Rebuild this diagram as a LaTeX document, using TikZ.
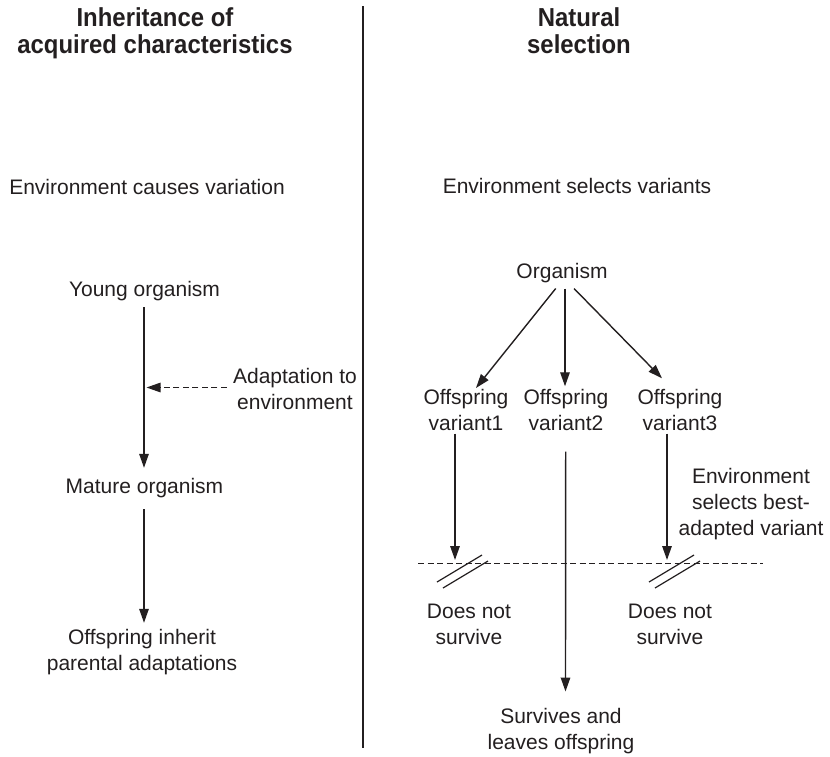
\documentclass[tikz,border=0pt]{standalone}
\usepackage{fontspec}
\setmainfont{Liberation Sans}
\newfontfamily\headfont{Liberation Sans}[FakeStretch=0.92]
\usetikzlibrary{arrows.meta}
\definecolor{ink}{HTML}{231F20}

\begin{document}
\begin{tikzpicture}[x=1pt,y=-1pt,
  lbl/.style={font=\fontsize{21}{26}\selectfont, align=center, inner sep=0pt,
    text=ink, execute at begin node=\strut, execute at end node=\strut},
  head/.style={font=\headfont\bfseries\fontsize{26}{27}\selectfont, align=center, inner sep=0pt,
    text=ink, execute at begin node=\strut, execute at end node=\strut},
  tip/.tip={Triangle[length=14pt,width=9.5pt]},
  arr/.style={draw=ink, line width=1.4pt, -tip},
  dashedarr/.style={draw=ink, line width=1.3pt, dash pattern=on 6pt off 3.5pt, -tip},
  cutline/.style={draw=ink, line width=1.2pt, dash pattern=on 6pt off 3.5pt},
  slash/.style={draw=ink, line width=1.2pt},
]
\useasboundingbox (0,0) rectangle (830,756);

% column headings and divider
\node[head] (hl) at (155,35.1) {Inheritance of\\acquired characteristics};
\node[head] (hr) at (579,35.1) {Natural\\selection};
\coordinate (divtop) at (363,6);
\coordinate (divbot) at (363,748);
\draw[ink, line width=1.2pt] (divtop) -- (divbot);

% left column: Lamarckian scheme
\node[lbl] (envl) at (147,188.8) {Environment causes variation};
\node[lbl] (young) at (144.5,291.5) {Young organism};
\node[lbl] (mature) at (144.5,488) {Mature organism};
\node[lbl] (inherit) at (142,653.5) {Offspring inherit\\parental adaptations};
\node[lbl] (adapt) at (295,392.3) {Adaptation to\\environment};

\draw[arr, shorten <=2.5pt, shorten >=7pt] (young.south -| 144,0) -- (mature.north -| 144,0);
\draw[arr, shorten <=8pt, shorten >=6pt] (mature.south -| 144,0) -- (inherit.north -| 144,0);
\draw[dashedarr] ([xshift=-6pt,yshift=4.8pt]adapt.west) -- ([yshift=4.8pt]adapt.west -| 146.5,0);

% right column: Darwinian scheme
\node[lbl] (envr) at (577,187.8) {Environment selects variants};
\node[lbl] (org) at (562,273) {Organism};
\node[lbl] (v1) at (466,414) {Offspring\\variant1};
\node[lbl] (v2) at (566,414) {Offspring\\variant2};
\node[lbl] (v3) at (680,414) {Offspring\\variant3};
\node[lbl] (sel) at (751,505.6) {Environment\\selects best-\\adapted variant};
\node[lbl] (dn1) at (469,628.5) {Does not\\survive};
\node[lbl] (dn3) at (670,628.5) {Does not\\survive};
\node[lbl] (surv) at (561,733.2) {Survives and\\leaves offspring};

\draw[arr] ([xshift=-6.3pt,yshift=-2.3pt]org.south) -- ([xshift=10pt,yshift=1.3pt]v1.north);
\draw[arr] ([xshift=3pt,yshift=-2.3pt]org.south) -- ([xshift=-1pt,yshift=3pt]v2.north);
\draw[arr] ([xshift=12pt,yshift=-2.3pt]org.south) -- ([xshift=-18pt,yshift=11pt]v3.north);

% selection threshold
\coordinate (dl) at (418,563.3);
\coordinate (dr) at (763,563.3);
\draw[cutline] (dl) -- (dr);

\coordinate (cut1) at (455,560);
\coordinate (cut3) at (667,560);
\draw[arr] ([xshift=-11pt,yshift=5pt]v1.south) -- (cut1);
\draw[arr] ([xshift=-13pt,yshift=5pt]v3.south) -- (cut3);
\draw[arr] ([xshift=-0.3pt,yshift=-13pt]v2.south) -- ([xshift=4.5pt,yshift=17pt]surv.north);

% blocked paths
\foreach \c in {cut1,cut3}{
  \draw[slash] ([shift={(-18,22)}]\c) -- ([shift={(27,-5)}]\c);
  \draw[slash] ([shift={(-12,28)}]\c) -- ([shift={(33,1)}]\c);
}
\end{tikzpicture}
\end{document}
